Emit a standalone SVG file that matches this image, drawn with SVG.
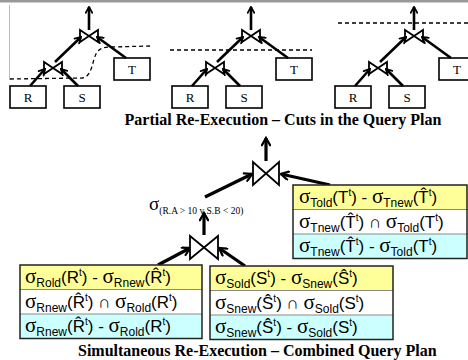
<svg xmlns="http://www.w3.org/2000/svg" width="468" height="360" viewBox="0 0 468 360">
<defs>
<marker id="ah" viewBox="0 0 10 10" refX="8.5" refY="5" markerWidth="3.2" markerHeight="3.2" orient="auto">
<path d="M1.5,1 L8.5,5 L1.5,9" fill="none" stroke="#000" stroke-width="2.2" stroke-linecap="round" stroke-linejoin="miter"/>
</marker>
<style>
.edge{stroke:#000;stroke-width:2.6;fill:none;marker-end:url(#ah)}
.bedge{stroke:#000;stroke-width:3.2;fill:none;marker-end:url(#ah)}
.box{fill:#fff;stroke:#000;stroke-width:1.6}
.bt{fill:#fff;stroke:#000;stroke-width:1.8;stroke-linejoin:miter}
.lbl{font-family:"Liberation Serif",serif;font-size:13px;text-anchor:middle}
.cut{stroke:#000;stroke-width:1.3;fill:none;stroke-dasharray:4 3}
.title{font-family:"Liberation Serif",serif;font-weight:bold;font-size:16px}
.row{font-family:"Liberation Sans","DejaVu Sans",sans-serif;font-size:17px}
.sg{font-family:"Liberation Serif",serif;font-size:21px}
.sub{font-size:12px}
.sup{font-size:10px}
.y{fill:#ffff99}
.w{fill:#ffffff}
.c{fill:#ccffff}
.tbl{fill:none;stroke:#222;stroke-width:1.5}
.sep{stroke:#888;stroke-width:1}
</style>
</defs>

<rect x="0" y="0" width="468" height="2.5" fill="#999"/>
<line x1="9.5" y1="5" x2="9.5" y2="80" stroke="#bbb" stroke-width="1"/>

<!-- Panel 1 -->
<g id="p1">
<g id="p1-R"><rect class="box" x="10" y="86" width="36" height="22"/><text class="lbl" x="28" y="102">R</text></g>
<g id="p1-S"><rect class="box" x="64" y="86" width="36" height="22"/><text class="lbl" x="82" y="102">S</text></g>
<g id="p1-T"><rect class="box" x="114" y="58" width="36" height="22"/><text class="lbl" x="132" y="74">T</text></g>
<g id="p1-J1"><path class="bt" d="M44,62 L44,74 L53,68 Z M62,62 L62,74 L53,68 Z"/></g>
<g id="p1-J2"><path class="bt" d="M80,30 L80,42 L89,36 Z M98,30 L98,42 L89,36 Z"/></g>
</g>
<!-- Panel 2 -->
<g id="p2">
<g id="p2-R"><rect class="box" x="172" y="86" width="36" height="22"/><text class="lbl" x="190" y="102">R</text></g>
<g id="p2-S"><rect class="box" x="226" y="86" width="36" height="22"/><text class="lbl" x="244" y="102">S</text></g>
<g id="p2-T"><rect class="box" x="276" y="58" width="36" height="22"/><text class="lbl" x="294" y="74">T</text></g>
<g id="p2-J1"><path class="bt" d="M206,62 L206,74 L215,68 Z M224,62 L224,74 L215,68 Z"/></g>
<g id="p2-J2"><path class="bt" d="M242,30 L242,42 L251,36 Z M260,30 L260,42 L251,36 Z"/></g>
</g>
<!-- Panel 3 -->
<g id="p3">
<g id="p3-R"><rect class="box" x="335" y="86" width="36" height="22"/><text class="lbl" x="353" y="102">R</text></g>
<g id="p3-S"><rect class="box" x="389" y="86" width="36" height="22"/><text class="lbl" x="407" y="102">S</text></g>
<g id="p3-T"><rect class="box" x="439" y="58" width="36" height="22"/><text class="lbl" x="457" y="74">T</text></g>
<g id="p3-J1"><path class="bt" d="M369,62 L369,74 L378,68 Z M387,62 L387,74 L378,68 Z"/></g>
<g id="p3-J2"><path class="bt" d="M405,30 L405,42 L414,36 Z M423,30 L423,42 L414,36 Z"/></g>
</g>

<g id="cuts">
<path class="cut" d="M10,79 L82,78 C92,77 92,62 96,54 C99,48 104,47 112,47 L150,46"/>
<line class="cut" x1="170" y1="50" x2="312" y2="50"/>
<line class="cut" x1="338" y1="23" x2="468" y2="23"/>
</g>

<g id="connectors">
<line class="edge" x1="30" y1="86" x2="45" y2="69"/>
<line class="edge" x1="78" y1="86" x2="61" y2="69"/>
<line class="edge" x1="55" y1="62" x2="81" y2="37"/>
<line class="edge" x1="126" y1="58" x2="97" y2="37"/>
<line class="edge" x1="89" y1="30" x2="89" y2="7"/>

<line class="edge" x1="192" y1="86" x2="207" y2="69"/>
<line class="edge" x1="240" y1="86" x2="223" y2="69"/>
<line class="edge" x1="217" y1="62" x2="243" y2="37"/>
<line class="edge" x1="288" y1="58" x2="259" y2="37"/>
<line class="edge" x1="251" y1="30" x2="251" y2="7"/>

<line class="edge" x1="355" y1="86" x2="370" y2="69"/>
<line class="edge" x1="403" y1="86" x2="386" y2="69"/>
<line class="edge" x1="380" y1="62" x2="406" y2="37"/>
<line class="edge" x1="451" y1="58" x2="422" y2="37"/>
<line class="edge" x1="414" y1="30" x2="414" y2="7"/>

<line class="bedge" x1="205" y1="197" x2="252" y2="174"/>
<line class="bedge" x1="330" y1="185" x2="281" y2="174"/>
<line class="bedge" x1="266" y1="161" x2="266" y2="138"/>
<line class="bedge" x1="158" y1="265" x2="190" y2="248"/>
<line class="bedge" x1="245" y1="266" x2="219" y2="248"/>
<line class="bedge" x1="204" y1="235" x2="204" y2="213"/>
</g>

<text class="title" x="283" y="125" text-anchor="middle">Partial Re-Execution – Cuts in the Query Plan</text>

<g id="join-top"><path class="bt" d="M253,162 L253,185 L266,173.5 Z M279,162 L279,185 L266,173.5 Z"/></g>
<g id="join-low"><path class="bt" d="M190,236 L190,259 L204,247.5 Z M218,236 L218,259 L204,247.5 Z"/></g>

<g id="sel"><text x="149" y="210" font-family="Liberation Serif,serif"><tspan font-size="19">σ</tspan><tspan font-size="9.5" dy="4">(R.A &gt; 10 v S.B &lt; 20)</tspan></text></g>

<!-- T table -->
<g id="tableT">
<rect class="y" x="293" y="185" width="175" height="24.5"/>
<rect class="w" x="293" y="209.5" width="175" height="24.5"/>
<rect class="c" x="293" y="234" width="175" height="24.5"/>
<line class="sep" x1="293" y1="209.5" x2="468" y2="209.5"/>
<line class="sep" x1="293" y1="234" x2="468" y2="234"/>
<rect class="tbl" x="293" y="185" width="174" height="73.5"/>
<text class="row" x="299" y="203"><tspan class="sg">σ</tspan><tspan class="sub" dy="4">Told</tspan><tspan dy="-4">(T</tspan><tspan class="sup" dy="-7">t</tspan><tspan dy="7">) - </tspan><tspan class="sg">σ</tspan><tspan class="sub" dy="4">Tnew</tspan><tspan dy="-4">(T̂</tspan><tspan class="sup" dy="-7">t</tspan><tspan dy="7">)</tspan></text>
<text class="row" x="299" y="227.5"><tspan class="sg">σ</tspan><tspan class="sub" dy="4">Tnew</tspan><tspan dy="-4">(T̂</tspan><tspan class="sup" dy="-7">t</tspan><tspan dy="7">) ∩ </tspan><tspan class="sg">σ</tspan><tspan class="sub" dy="4">Told</tspan><tspan dy="-4">(T</tspan><tspan class="sup" dy="-7">t</tspan><tspan dy="7">)</tspan></text>
<text class="row" x="299" y="252"><tspan class="sg">σ</tspan><tspan class="sub" dy="4">Tnew</tspan><tspan dy="-4">(T̂</tspan><tspan class="sup" dy="-7">t</tspan><tspan dy="7">) - </tspan><tspan class="sg">σ</tspan><tspan class="sub" dy="4">Told</tspan><tspan dy="-4">(T</tspan><tspan class="sup" dy="-7">t</tspan><tspan dy="7">)</tspan></text>
</g>

<!-- R table -->
<g id="tableR">
<rect class="y" x="20" y="265" width="182" height="24.5"/>
<rect class="w" x="20" y="289.5" width="182" height="24.5"/>
<rect class="c" x="20" y="314" width="182" height="24.5"/>
<line class="sep" x1="20" y1="289.5" x2="202" y2="289.5"/>
<line class="sep" x1="20" y1="314" x2="202" y2="314"/>
<rect class="tbl" x="20" y="265" width="182" height="73.5"/>
<text class="row" x="25" y="283"><tspan class="sg">σ</tspan><tspan class="sub" dy="4">Rold</tspan><tspan dy="-4">(R</tspan><tspan class="sup" dy="-7">t</tspan><tspan dy="7">) - </tspan><tspan class="sg">σ</tspan><tspan class="sub" dy="4">Rnew</tspan><tspan dy="-4">(R̂</tspan><tspan class="sup" dy="-7">t</tspan><tspan dy="7">)</tspan></text>
<text class="row" x="25" y="307.5"><tspan class="sg">σ</tspan><tspan class="sub" dy="4">Rnew</tspan><tspan dy="-4">(R̂</tspan><tspan class="sup" dy="-7">t</tspan><tspan dy="7">) ∩ </tspan><tspan class="sg">σ</tspan><tspan class="sub" dy="4">Rold</tspan><tspan dy="-4">(R</tspan><tspan class="sup" dy="-7">t</tspan><tspan dy="7">)</tspan></text>
<text class="row" x="25" y="332"><tspan class="sg">σ</tspan><tspan class="sub" dy="4">Rnew</tspan><tspan dy="-4">(R̂</tspan><tspan class="sup" dy="-7">t</tspan><tspan dy="7">) - </tspan><tspan class="sg">σ</tspan><tspan class="sub" dy="4">Rold</tspan><tspan dy="-4">(R</tspan><tspan class="sup" dy="-7">t</tspan><tspan dy="7">)</tspan></text>
</g>

<!-- S table -->
<g id="tableS">
<rect class="y" x="210" y="266" width="183" height="24.5"/>
<rect class="w" x="210" y="290.5" width="183" height="24.5"/>
<rect class="c" x="210" y="315" width="183" height="24.5"/>
<line class="sep" x1="210" y1="290.5" x2="393" y2="290.5"/>
<line class="sep" x1="210" y1="315" x2="393" y2="315"/>
<rect class="tbl" x="210" y="266" width="183" height="73.5"/>
<text class="row" x="215" y="284"><tspan class="sg">σ</tspan><tspan class="sub" dy="4">Sold</tspan><tspan dy="-4">(S</tspan><tspan class="sup" dy="-7">t</tspan><tspan dy="7">) - </tspan><tspan class="sg">σ</tspan><tspan class="sub" dy="4">Snew</tspan><tspan dy="-4">(Ŝ</tspan><tspan class="sup" dy="-7">t</tspan><tspan dy="7">)</tspan></text>
<text class="row" x="215" y="308.5"><tspan class="sg">σ</tspan><tspan class="sub" dy="4">Snew</tspan><tspan dy="-4">(Ŝ</tspan><tspan class="sup" dy="-7">t</tspan><tspan dy="7">) ∩ </tspan><tspan class="sg">σ</tspan><tspan class="sub" dy="4">Sold</tspan><tspan dy="-4">(S</tspan><tspan class="sup" dy="-7">t</tspan><tspan dy="7">)</tspan></text>
<text class="row" x="215" y="333"><tspan class="sg">σ</tspan><tspan class="sub" dy="4">Snew</tspan><tspan dy="-4">(Ŝ</tspan><tspan class="sup" dy="-7">t</tspan><tspan dy="7">) - </tspan><tspan class="sg">σ</tspan><tspan class="sub" dy="4">Sold</tspan><tspan dy="-4">(S</tspan><tspan class="sup" dy="-7">t</tspan><tspan dy="7">)</tspan></text>
</g>

<text class="title" x="78" y="356">Simultaneous Re-Execution – Combined Query Plan</text>
</svg>
